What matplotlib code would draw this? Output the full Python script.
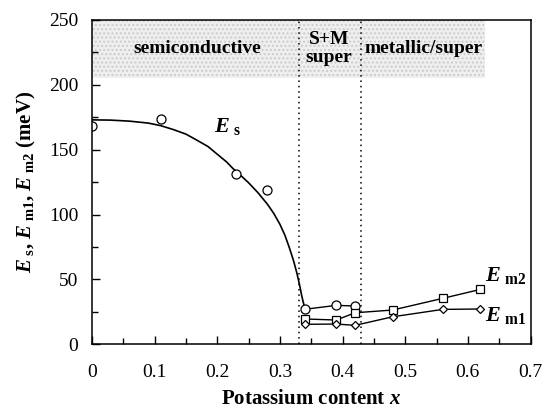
"""
Es, Em1, Em2 vs potassium content x
"""

import matplotlib
matplotlib.use('Agg')
import matplotlib.pyplot as plt

plt.rcParams['font.family'] = ['Liberation Serif', 'DejaVu Serif']
plt.rcParams['mathtext.fontset'] = 'custom'
plt.rcParams['mathtext.it'] = 'Liberation Serif:italic:bold'
plt.rcParams['mathtext.rm'] = 'Liberation Serif:bold'
plt.rcParams['mathtext.bf'] = 'Liberation Serif:bold'

# data
es_x = [0, 0.11, 0.23, 0.28, 0.34, 0.39, 0.42]
es = [168, 174, 131, 119, 27, 30, 29.5]
m_x = [0.34, 0.39, 0.42, 0.48, 0.56, 0.62]
em2 = [19.5, 18.7, 24.3, 26.4, 35.4, 42.3]
em1 = [15.4, 15.6, 14.6, 21.2, 26.9, 27.2]

# guide curve through Es
fit_x = [0, 0.03, 0.06, 0.09, 0.11, 0.13, 0.15, 0.165, 0.185, 0.2, 0.215,
         0.225, 0.24, 0.25, 0.265, 0.28, 0.29, 0.30, 0.308, 0.315,
         0.322, 0.327, 0.331, 0.335, 0.338, 0.34]
fit_y = [173, 172.8, 172, 170.5, 168.5, 165.5, 162, 158, 152.5, 146.5, 140.5,
         135.5, 129, 124.5, 116.8, 108, 101, 92.5, 84, 74.5,
         64, 55, 46.5, 37, 31, 27]

borders = [0.33, 0.43]
regions = ['semiconductive', 'S+M\nsuper', 'metallic/super']
region_x = [0.168, 0.378, 0.53]

fig = plt.figure(figsize=(5.43, 4.16), dpi=100)
ax = fig.add_axes([0.1694, 0.1724, 0.8076, 0.7796])

ax.fill_between([0, 0.627], 205.5, 250, facecolor='#efefef', edgecolor='#cccccc',
                hatch='....', linewidth=0, zorder=0)
for b in borders:
    ax.axvline(b, color='k', lw=1.1, ls=(0, (1, 2.5)), zorder=1)
for t, xx in zip(regions, region_x):
    ax.text(xx, 228, t, ha='center', va='center', fontsize=14, fontweight='bold',
            linespacing=1.05)

ax.plot(fit_x, fit_y, color='k', lw=1.2)
ax.plot(es_x[4:], es[4:], color='k', lw=1)
ax.plot(es_x, es, ls='none', marker='o', ms=6.5, mfc='white', mec='k', mew=0.9)
ax.plot(m_x, em2, color='k', lw=1, marker='s', ms=6, mfc='white', mec='k', mew=0.9)
ax.plot(m_x, em1, color='k', lw=1, marker='D', ms=4.5, mfc='white', mec='k', mew=0.9)

ax.text(0.195, 168, r'$E_{\rm\ s}$', fontsize=16, va='center')
ax.text(0.627, 53, r'$E_{\rm\ m2}$', fontsize=16, va='center')
ax.text(0.627, 22, r'$E_{\rm\ m1}$', fontsize=16, va='center')

ax.set_xlim(0, 0.7)
ax.set_ylim(0, 250)
ax.set_xticks([0, 0.1, 0.2, 0.3, 0.4, 0.5, 0.6, 0.7])
ax.set_xticklabels(['0', '0.1', '0.2', '0.3', '0.4', '0.5', '0.6', '0.7'])
ax.set_xticks([0.05, 0.15, 0.25, 0.35, 0.45, 0.55, 0.65], minor=True)
ax.set_yticks([0, 50, 100, 150, 200, 250])
ax.set_yticks([25, 75, 125, 175, 225], minor=True)
ax.tick_params(direction='in', labelsize=14, length=6, width=1)
ax.tick_params(which='minor', direction='in', length=4, width=1)
ax.tick_params(axis='x', pad=14)
ax.tick_params(axis='y', pad=10)
for s in ax.spines.values():
    s.set_linewidth(1.1)

ax.set_xlabel('Potassium content $x$', fontsize=15, fontweight='bold', labelpad=6)
ax.set_ylabel(r'$E_{\rm\ s}$, $E_{\rm\ m1}$, $E_{\rm\ m2}$ (meV)', fontsize=15,
              fontweight='bold', labelpad=8)

fig.savefig('out.png', dpi=100)
